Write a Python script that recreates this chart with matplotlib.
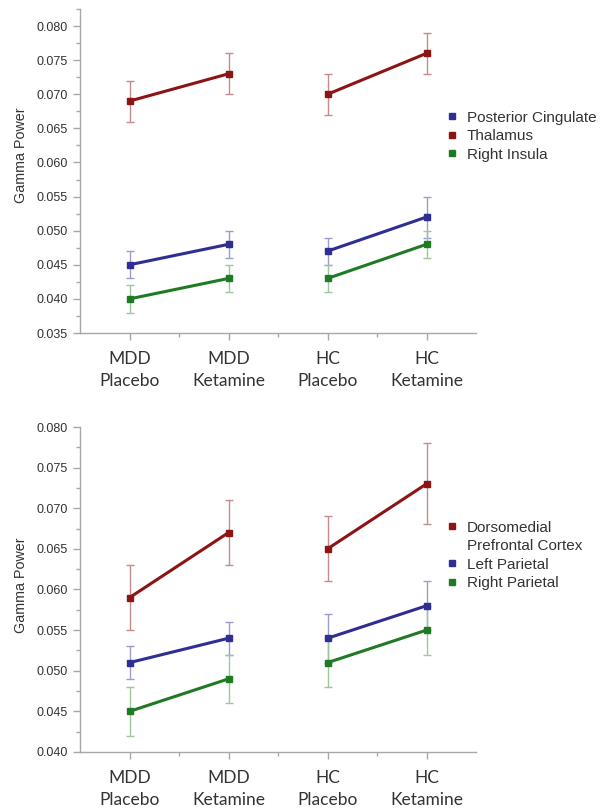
import matplotlib
matplotlib.use("Agg")
import matplotlib.pyplot as plt
from matplotlib.lines import Line2D
from matplotlib.ticker import MultipleLocator, FixedLocator
import numpy as np

# ---------------- data ----------------
conditions = ["MDD\nPlacebo", "MDD\nKetamine", "HC\nPlacebo", "HC\nKetamine"]

# Top panel
top_names = ["Posterior Cingulate", "Thalamus", "Right Insula"]
pc_mean = [0.045, 0.048, 0.047, 0.052]
pc_lo = [0.043, 0.046, 0.045, 0.049]
pc_hi = [0.047, 0.050, 0.049, 0.055]
th_mean = [0.069, 0.073, 0.070, 0.076]
th_lo = [0.066, 0.070, 0.067, 0.073]
th_hi = [0.072, 0.076, 0.073, 0.079]
ri_mean = [0.040, 0.043, 0.043, 0.048]
ri_lo = [0.038, 0.041, 0.041, 0.046]
ri_hi = [0.042, 0.045, 0.045, 0.050]

# Bottom panel
bot_names = ["Dorsomedial", "Prefrontal Cortex", "Left Parietal", "Right Parietal"]
dm_mean = [0.059, 0.067, 0.065, 0.073]
dm_lo = [0.055, 0.063, 0.061, 0.068]
dm_hi = [0.063, 0.071, 0.069, 0.078]
lp_mean = [0.051, 0.054, 0.054, 0.058]
lp_lo = [0.049, 0.052, 0.051, 0.055]
lp_hi = [0.053, 0.056, 0.057, 0.061]
rp_mean = [0.045, 0.049, 0.051, 0.055]
rp_lo = [0.042, 0.046, 0.048, 0.052]
rp_hi = [0.048, 0.052, 0.054, 0.058]

RED, BLUE, GREEN = "#8c1414", "#2e2e94", "#1f7a24"
RED_E, BLUE_E, GREEN_E = "#c48c8c", "#9c9ccc", "#9cc89c"
SPINE = "#a8a8a8"
TXT = "#333333"

plt.rcParams['font.family'] = ['Liberation Sans', 'DejaVu Sans']

fig = plt.figure(figsize=(6.06, 8.08), dpi=100)
ax1 = fig.add_axes([80/606, 1-333/808, 396/606, 324/808])
ax2 = fig.add_axes([80/606, 1-752/808, 396/606, 325/808])

x = np.arange(1, len(conditions) + 1)


def draw_series(ax, mean, lo, hi, color, ecolor):
    mean = np.array(mean); lo = np.array(lo); hi = np.array(hi)
    yerr = np.vstack([mean - lo, hi - mean])
    ax.errorbar(x, mean, yerr=yerr, fmt="none", ecolor=ecolor, elinewidth=1.0,
                capsize=3, capthick=1.0, zorder=2)
    for idx in ([0, 1], [2, 3]):
        ax.plot(x[idx], mean[idx], color=color, lw=2.2, marker="s", ms=5,
                mec=color, mfc=color, zorder=3)


def style_axes(ax, ylim):
    ax.set_xlim(0.5, 4.5)
    ax.set_ylim(*ylim)
    for s in ["top", "right"]:
        ax.spines[s].set_visible(False)
    for s in ["left", "bottom"]:
        ax.spines[s].set_color(SPINE)
        ax.spines[s].set_linewidth(1.0)
    ax.yaxis.set_major_locator(MultipleLocator(0.005))
    ax.yaxis.set_minor_locator(MultipleLocator(0.0025))
    ax.yaxis.set_major_formatter(matplotlib.ticker.FormatStrFormatter("%.3f"))
    ax.xaxis.set_major_locator(FixedLocator(list(x)))
    ax.xaxis.set_minor_locator(FixedLocator([1.5, 2.5, 3.5]))
    ax.set_xticklabels(conditions, fontfamily="Lato", fontsize=12.5,
                       color=TXT, linespacing=1.42)
    ax.tick_params(axis="both", which="major", direction="out", length=5,
                   width=1, color=SPINE)
    ax.tick_params(axis="both", which="minor", direction="out", length=3,
                   width=1, color=SPINE)
    ax.tick_params(axis="y", labelsize=9, labelcolor=TXT, pad=4)
    ax.tick_params(axis="x", pad=8)
    ax.set_ylabel("Gamma Power", fontsize=10.3, color=TXT)


draw_series(ax1, th_mean, th_lo, th_hi, RED, RED_E)
draw_series(ax1, pc_mean, pc_lo, pc_hi, BLUE, BLUE_E)
draw_series(ax1, ri_mean, ri_lo, ri_hi, GREEN, GREEN_E)
style_axes(ax1, (0.035, 0.0825))
ax1.yaxis.set_label_coords(-0.131, 0.549)

draw_series(ax2, dm_mean, dm_lo, dm_hi, RED, RED_E)
draw_series(ax2, lp_mean, lp_lo, lp_hi, BLUE, BLUE_E)
draw_series(ax2, rp_mean, rp_lo, rp_hi, GREEN, GREEN_E)
style_axes(ax2, (0.040, 0.080))
ax2.yaxis.set_label_coords(-0.131, 0.514)


def handle(c):
    return Line2D([], [], linestyle="none", marker="s", ms=4.5, mfc=c, mec=c)


blank = Line2D([], [], linestyle="none", marker="none")

leg1 = fig.legend([handle(BLUE), handle(RED), handle(GREEN)], top_names,
                  loc="upper left", bbox_to_anchor=(438/606, 1-103/808),
                  frameon=False, fontsize=11, handlelength=0.8,
                  handletextpad=0.6, labelspacing=0.3, borderpad=0,
                  labelcolor=TXT)
leg2 = fig.legend([handle(RED), blank, handle(BLUE), handle(GREEN)], bot_names,
                  loc="upper left", bbox_to_anchor=(438/606, 1-513/808),
                  frameon=False, fontsize=11, handlelength=0.8,
                  handletextpad=0.6, labelspacing=0.3, borderpad=0,
                  labelcolor=TXT)

fig.savefig("out.png", dpi=100)
